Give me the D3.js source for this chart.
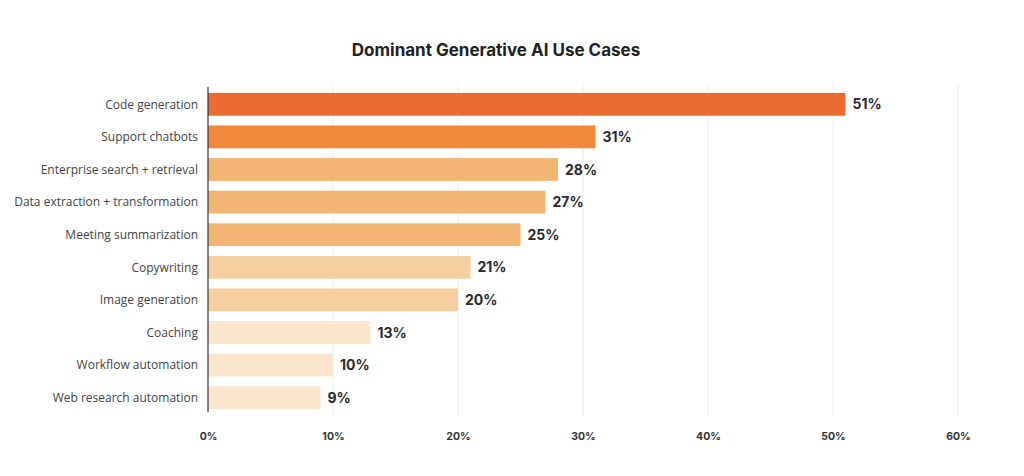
<!DOCTYPE html>
<html><head><meta charset="utf-8">
<script src="https://cdn.jsdelivr.net/npm/d3@7"></script>
<style>body{margin:0;background:#fff;}svg{display:block;}</style>
</head><body>
<svg id="chart" width="1024" height="476"></svg>
<script>
const categories = ["Code generation","Support chatbots","Enterprise search + retrieval","Data extraction + transformation","Meeting summarization","Copywriting","Image generation","Coaching","Workflow automation","Web research automation"];
const values = [51,31,28,27,25,21,20,13,10,9];
const barColors = ["#EA6A2F","#F08A3A","#F3B573","#F3B573","#F3B573","#F6CF9E","#F6CF9E","#FAE5CD","#FAE5CD","#FAE5CD"];
const tickValues = [0,10,20,30,40,50,60];
const title = "Dominant Generative AI Use Cases";

const svg = d3.select("#chart");
const x = d3.scaleLinear().domain([0,60]).range([208,958]);
const y = d3.scaleBand().domain(categories).range([88,414]).paddingInner(0.3).paddingOuter(0.15);

svg.append("text").attr("x",496).attr("y",56).attr("text-anchor","middle")
  .attr("font-family","Inter, 'Open Sans', sans-serif").attr("font-weight",700).attr("font-size",17).attr("fill","#222").text(title);

// gridlines
svg.append("g").selectAll("line").data(tickValues.filter(d=>d>0)).join("line")
  .attr("x1",d=>x(d)).attr("x2",d=>x(d)).attr("y1",84).attr("y2",416)
  .attr("stroke","#ececec").attr("stroke-width",1);

// bars
svg.append("g").selectAll("rect").data(categories).join("rect")
  .attr("x",x(0)).attr("y",d=>y(d)).attr("height",y.bandwidth())
  .attr("width",(d,i)=>x(values[i])-x(0)).attr("fill",(d,i)=>barColors[i]);

// axis line
svg.append("line").attr("x1",x(0)).attr("x2",x(0)).attr("y1",87).attr("y2",412).attr("stroke","#333").attr("stroke-width",1.2);

// category labels
svg.append("g").selectAll("text").data(categories).join("text")
  .attr("x",198).attr("y",d=>y(d)+y.bandwidth()/2).attr("dy","0.35em").attr("text-anchor","end")
  .attr("font-family","'Open Sans', sans-serif").attr("font-size",12).attr("fill","#444").text(d=>d);

// value labels
svg.append("g").selectAll("text").data(categories).join("text")
  .attr("x",(d,i)=>x(values[i])+7).attr("y",d=>y(d)+y.bandwidth()/2).attr("dy","0.36em")
  .attr("font-family","Inter, 'Open Sans', sans-serif").attr("font-weight",700).attr("font-size",14).attr("fill","#2a2a2a")
  .text((d,i)=>values[i]+"%");

// x axis tick labels
const xAxis = d3.axisBottom(x).tickValues(tickValues).tickFormat(d=>d+"%").tickSize(0).tickPadding(0);
const gx = svg.append("g").attr("transform","translate(0,433)").call(xAxis);
gx.select(".domain").remove();
gx.selectAll("text").attr("font-family","Inter, 'Open Sans', sans-serif").attr("font-weight",700).attr("font-size",10.5).attr("fill","#333");
</script>
</body></html>
